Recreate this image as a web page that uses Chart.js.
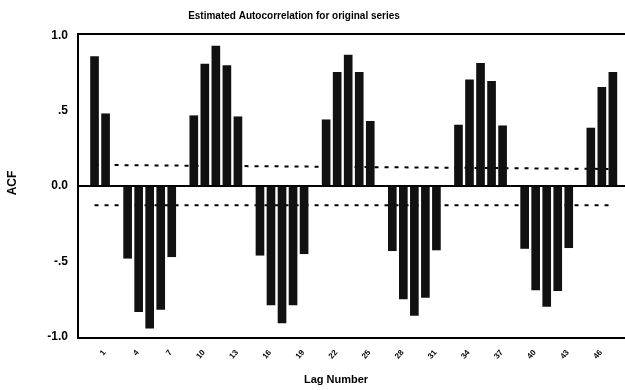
<!DOCTYPE html>
<html>
<head>
<meta charset="utf-8">
<script src="https://cdn.jsdelivr.net/npm/chart.js@4/dist/chart.umd.min.js"></script>
<style>
  html, body { margin: 0; padding: 0; background: #fff; overflow: hidden; }
  #wrap { width: 630px; height: 390px; }
</style>
</head>
<body>
<div id="wrap"><canvas id="c" width="630" height="390"></canvas></div>
<script>
// ---- data ----
const lags = [1,2,3,4,5,6,7,8,9,10,11,12,13,14,15,16,17,18,19,20,21,22,23,24,
              25,26,27,28,29,30,31,32,33,34,35,36,37,38,39,40,41,42,43,44,45,46,47,48];
const acf = [0.86, 0.48, 0.00, -0.48, -0.835, -0.945, -0.82, -0.47,
             0.00, 0.467, 0.81, 0.93, 0.80, 0.46,
             0.00, -0.46, -0.79, -0.91, -0.79, -0.45,
             0.00, 0.44, 0.755, 0.87, 0.755, 0.43,
             0.00, -0.43, -0.75, -0.86, -0.74, -0.425,
             0.00, 0.405, 0.705, 0.815, 0.695, 0.40,
             0.00, -0.415, -0.69, -0.80, -0.695, -0.41,
             0.00, 0.385, 0.655, 0.755];
const limitLags = [1, 48];
const upperLimit = [0.14, 0.113];
const lowerLimit = [-0.128, -0.128];
const xTickLags = [1,4,7,10,13,16,19,22,25,28,31,34,37,40,43,46];
const yTickValues = [-1, -0.5, 0, 0.5, 1];
const yTickLabels = ['-1.0', '-.5', '0.0', '.5', '1.0'];
const titleText = 'Estimated Autocorrelation for original series';
const xTitle = 'Lag Number';
const yTitle = 'ACF';

const FONT = '"Liberation Sans", Arial, sans-serif';

const textPlugin = {
  id: 'texts',
  afterDraw(chart) {
    const ctx = chart.ctx;
    const a = chart.chartArea;
    ctx.save();
    ctx.fillStyle = '#000';
    ctx.textAlign = 'center';
    ctx.textBaseline = 'middle';
    ctx.font = 'bold 10px ' + FONT;
    ctx.fillText(titleText, a.left + 216, 16);
    ctx.font = 'bold 11px ' + FONT;
    ctx.fillText(xTitle, a.left + 258, 380);
    ctx.translate(13, 183);
    ctx.rotate(-Math.PI / 2);
    ctx.font = 'bold 12px ' + FONT;
    ctx.fillText(yTitle, 0, 0);
    ctx.restore();
  }
};

new Chart(document.getElementById('c'), {
  type: 'bar',
  data: {
    datasets: [
      {
        type: 'bar',
        data: lags.map((l, i) => ({ x: l, y: acf[i] })),
        backgroundColor: '#111',
        borderWidth: 0,
        barThickness: 8,
        order: 0
      },
      {
        type: 'line',
        data: limitLags.map((l, i) => ({ x: l, y: upperLimit[i] })),
        borderColor: '#000',
        borderWidth: 2,
        borderDash: [4, 6],
        pointRadius: 0,
        fill: false,
        order: 1
      },
      {
        type: 'line',
        data: limitLags.map((l, i) => ({ x: l, y: lowerLimit[i] })),
        borderColor: '#000',
        borderWidth: 2,
        borderDash: [4, 6],
        pointRadius: 0,
        fill: false,
        order: 1
      }
    ]
  },
  options: {
    responsive: false,
    animation: false,
    events: [],
    layout: { padding: { left: 0, top: 34, right: 5, bottom: 0 } },
    plugins: { legend: { display: false }, tooltip: { enabled: false }, title: { display: false } },
    scales: {
      x: {
        type: 'linear',
        position: 'bottom',
        offset: false,
        min: -0.5,
        max: 49.1,
        afterBuildTicks: s => { s.ticks = xTickLags.map(v => ({ value: v })); },
        afterFit: s => { s.height = 52; },
        grid: { display: true, offset: false, color: 'transparent', drawTicks: false },
        border: { display: true, color: '#000', width: 2 },
        ticks: {
          autoSkip: false,
          minRotation: 50,
          maxRotation: 50,
          padding: 10,
          labelOffset: 10,
          color: '#000',
          font: { family: FONT, size: 8, weight: 'bold' },
          callback: v => String(v)
        }
      },
      x2: {
        type: 'linear',
        position: 'top',
        offset: false,
        min: -0.5,
        max: 49.1,
        afterFit: s => { s.height = 0; },
        grid: { display: true, offset: false, color: 'transparent', drawTicks: false },
        border: { display: true, color: '#000', width: 2 },
        ticks: { display: false }
      },
      y: {
        type: 'linear',
        min: -1.01,
        max: 1.01,
        afterBuildTicks: s => { s.ticks = yTickValues.map(v => ({ value: v })); },
        afterFit: s => { s.width = 78; },
        grid: {
          display: true,
          drawTicks: false,
          color: c => (c.tick && c.tick.value === 0 ? '#000' : 'transparent'),
          lineWidth: 2
        },
        border: { display: true, color: '#000', width: 2 },
        ticks: {
          padding: 10,
          color: '#000',
          font: { family: FONT, size: 12, weight: 'bold' },
          callback: v => yTickLabels[yTickValues.indexOf(v)]
        }
      }
    }
  },
  plugins: [textPlugin]
});
</script>
</body>
</html>
